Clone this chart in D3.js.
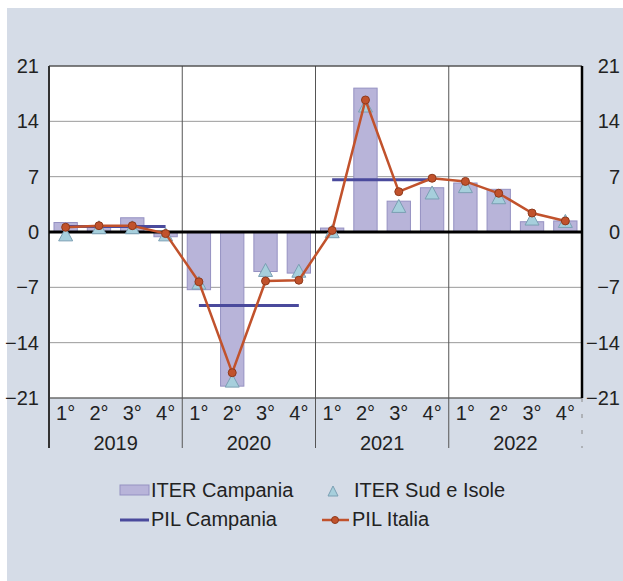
<!DOCTYPE html>
<html>
<head>
<meta charset="utf-8">
<script src="https://cdn.jsdelivr.net/npm/d3@7"></script>
<style>
  body { margin: 0; background: #fff; }
  svg { display: block; }
  text { font-family: "Liberation Sans", Arial, sans-serif; fill: #222; }
</style>
</head>
<body>
<svg id="chart" width="623" height="581"></svg>
<script>
// data
const years = ['2019', '2020', '2021', '2022'];
const quarters = ['1°', '2°', '3°', '4°'];
const iterCampania = [1.2, 0.6, 1.8, -0.6, -7.3, -19.5, -5.0, -5.2, 0.5, 18.2, 3.9, 5.6, 6.2, 5.4, 1.3, 1.4];
const iterSud = [-0.3, 0.6, 0.6, -0.3, -6.4, -18.8, -4.8, -4.9, 0.1, 16.0, 3.3, 5.0, 5.8, 4.4, 1.7, 1.4];
const pilItalia = [0.6, 0.8, 0.8, -0.2, -6.3, -17.8, -6.2, -6.1, 0.2, 16.7, 5.1, 6.8, 6.4, 4.9, 2.4, 1.4];
const pilCampania = [0.7, -9.3, 6.6, null];
const yTicks = [-21, -14, -7, 0, 7, 14, 21];

const svg = d3.select('#chart');
const plotL = 49, plotR = 582, plotT = 66, plotB = 398;

svg.append('rect').attr('x', 7).attr('y', 8).attr('width', 616).attr('height', 573).attr('fill', '#d5dce7');
svg.append('rect').attr('x', plotL).attr('y', plotT).attr('width', plotR - plotL).attr('height', plotB - plotT).attr('fill', '#fff');

const idx = d3.range(iterCampania.length);
const x = d3.scaleBand().domain(idx).range([plotL, plotR]).paddingInner(0.3).paddingOuter(0.15);
const xYear = d3.scaleBand().domain(years).range([plotL, plotR]);
const y = d3.scaleLinear().domain([-21, 21]).range([plotB, plotT]);
const cx = i => x(i) + x.bandwidth() / 2;

// horizontal gridlines
svg.append('g').selectAll('line').data(yTicks.filter(d => d !== 0)).join('line')
    .attr('x1', plotL).attr('x2', plotR)
    .attr('y1', d => y(d)).attr('y2', d => y(d))
    .attr('stroke', '#9a9a9a').attr('stroke-width', 1);

// year separators (extend below plot)
svg.append('g').selectAll('line').data(years.slice(1)).join('line')
    .attr('x1', d => xYear(d)).attr('x2', d => xYear(d))
    .attr('y1', plotT).attr('y2', 448)
    .attr('stroke', '#555').attr('stroke-width', 1);

// bars
svg.append('g').selectAll('rect').data(iterCampania).join('rect')
    .attr('x', (d, i) => x(i))
    .attr('width', x.bandwidth())
    .attr('y', d => y(Math.max(0, d)))
    .attr('height', d => Math.abs(y(d) - y(0)))
    .attr('fill', '#b8b4d9').attr('stroke', '#9591c2').attr('stroke-width', 1);

// frame
svg.append('line').attr('x1', plotL).attr('x2', plotR).attr('y1', plotT).attr('y2', plotT).attr('stroke', '#333');
svg.append('line').attr('x1', plotL).attr('x2', plotR).attr('y1', plotB).attr('y2', plotB).attr('stroke', '#555');
svg.append('line').attr('x1', plotL).attr('x2', plotL).attr('y1', plotT).attr('y2', 448).attr('stroke', '#333').attr('stroke-width', 2);
svg.append('line').attr('x1', plotR).attr('x2', plotR).attr('y1', plotT).attr('y2', plotB).attr('stroke', '#000').attr('stroke-width', 2.5);
svg.append('line').attr('x1', plotR).attr('x2', plotR).attr('y1', plotB).attr('y2', 448)
    .attr('stroke', '#888').attr('stroke-dasharray', '4,12');

// zero line
svg.append('line').attr('x1', plotL).attr('x2', plotR).attr('y1', y(0)).attr('y2', y(0))
    .attr('stroke', '#000').attr('stroke-width', 3);

// PIL Campania: one segment per year, Q1 to Q4 centres
svg.append('g').selectAll('line').data(pilCampania.map((v, k) => ({ v, k })).filter(d => d.v !== null)).join('line')
    .attr('x1', d => cx(d.k * 4)).attr('x2', d => cx(d.k * 4 + 3))
    .attr('y1', d => y(d.v)).attr('y2', d => y(d.v))
    .attr('stroke', '#4a4a9c').attr('stroke-width', 3);

// ITER Sud e Isole triangles
const tri = (w, h) => `M0,${-h / 2}L${w / 2},${h / 2}L${-w / 2},${h / 2}Z`;
svg.append('g').selectAll('path').data(iterSud).join('path')
    .attr('d', tri(14, 13))
    .attr('transform', (d, i) => `translate(${cx(i)},${y(d)})`)
    .attr('fill', '#a6cfdc').attr('stroke', '#7a9fb3').attr('stroke-width', 1);

// PIL Italia
svg.append('path').datum(pilItalia)
    .attr('d', d3.line().x((d, i) => cx(i)).y(d => y(d)))
    .attr('fill', 'none').attr('stroke', '#c1522c').attr('stroke-width', 2.5);
svg.append('g').selectAll('circle').data(pilItalia).join('circle')
    .attr('cx', (d, i) => cx(i)).attr('cy', d => y(d)).attr('r', 4)
    .attr('fill', '#c1522c').attr('stroke', '#8e3a1c').attr('stroke-width', 1);

// y axes
const yl = svg.append('g').attr('transform', `translate(${plotL},0)`)
    .call(d3.axisLeft(y).tickValues(yTicks).tickSize(0).tickPadding(10));
const yr = svg.append('g').attr('transform', `translate(${plotR},0)`)
    .call(d3.axisRight(y).tickValues(yTicks).tickSize(0));
[yl, yr].forEach(g => {
    g.select('.domain').remove();
    g.selectAll('text').attr('font-size', 20).attr('fill', '#222').style('font-family', '"Liberation Sans", Arial, sans-serif');
});
yr.selectAll('text').attr('x', 38).attr('text-anchor', 'end');

// x axis: quarters + years
const xq = svg.append('g').attr('transform', `translate(0,${plotB})`)
    .call(d3.axisBottom(x).tickSize(0).tickPadding(8).tickFormat(i => quarters[i % 4]));
const xy = svg.append('g').attr('transform', `translate(0,${plotB})`)
    .call(d3.axisBottom(xYear).tickSize(0).tickPadding(38));
[xq, xy].forEach(g => {
    g.select('.domain').remove();
    g.selectAll('text').attr('font-size', 20).attr('fill', '#222').style('font-family', '"Liberation Sans", Arial, sans-serif');
});

// legend
const lg = svg.append('g').attr('font-size', 20);
lg.append('rect').attr('x', 120).attr('y', 485).attr('width', 29).attr('height', 10)
    .attr('fill', '#b8b4d9').attr('stroke', '#9591c2');
lg.append('text').attr('x', 151).attr('y', 497).text('ITER Campania');
lg.append('path').attr('d', tri(10, 10)).attr('transform', 'translate(333,491)')
    .attr('fill', '#a6cfdc').attr('stroke', '#7a9fb3');
lg.append('text').attr('x', 354).attr('y', 497).text('ITER Sud e Isole');
lg.append('line').attr('x1', 120).attr('x2', 149).attr('y1', 520).attr('y2', 520)
    .attr('stroke', '#4a4a9c').attr('stroke-width', 3);
lg.append('text').attr('x', 151).attr('y', 526).text('PIL Campania');
lg.append('line').attr('x1', 322).attr('x2', 349).attr('y1', 520).attr('y2', 520)
    .attr('stroke', '#c1522c').attr('stroke-width', 2.5);
lg.append('circle').attr('cx', 335).attr('cy', 520).attr('r', 3.5).attr('fill', '#c1522c').attr('stroke', '#8e3a1c');
lg.append('text').attr('x', 352).attr('y', 526).text('PIL Italia');
</script>
</body>
</html>
